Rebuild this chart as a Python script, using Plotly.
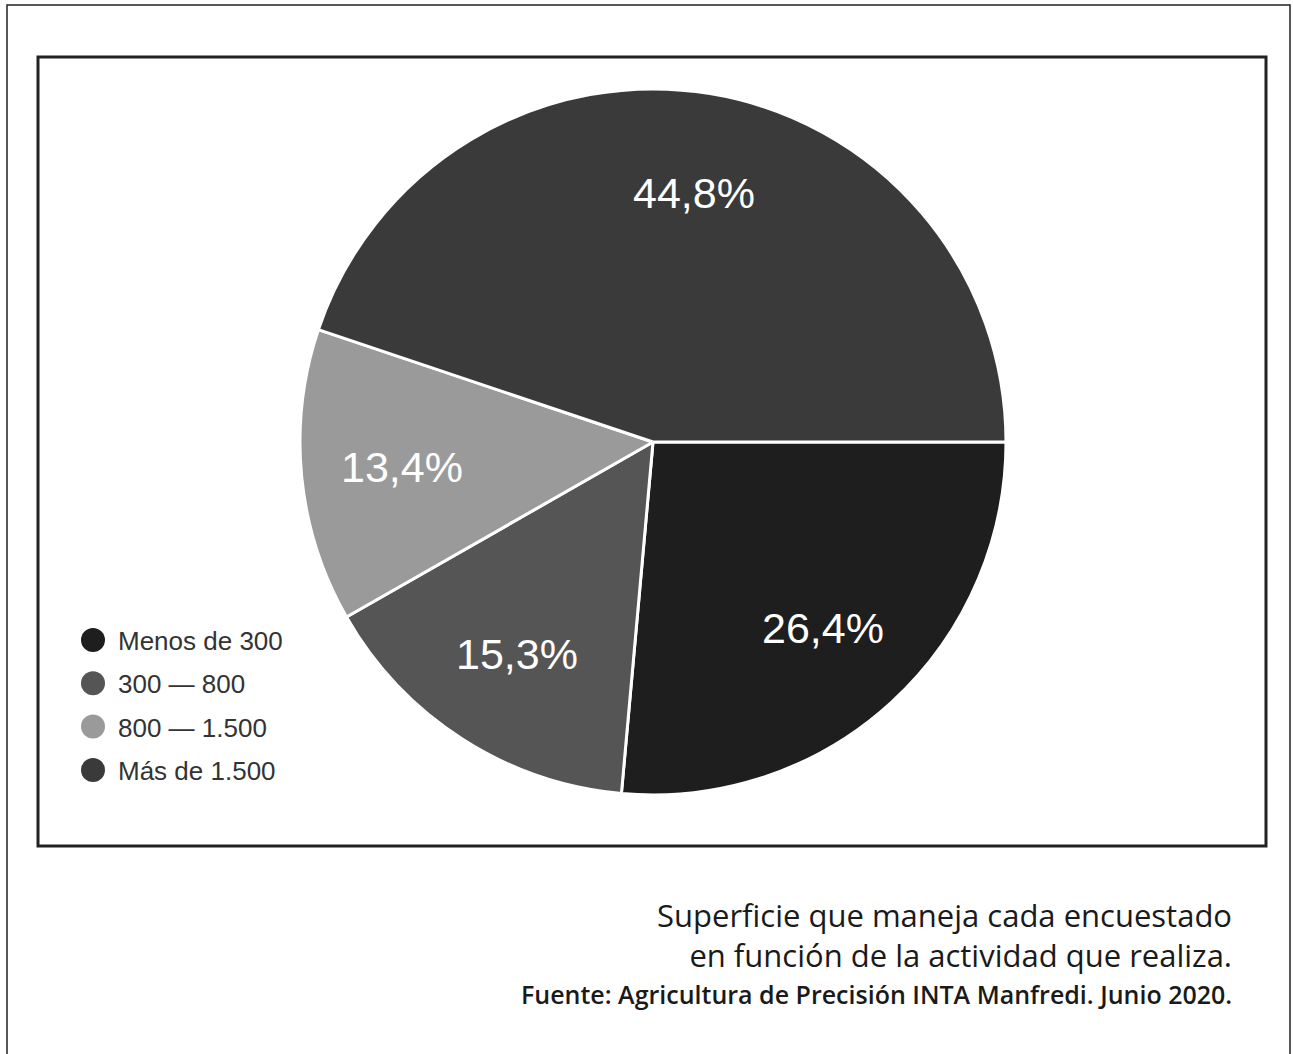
import math
import plotly.graph_objects as go

categories = ["Menos de 300", "300 — 800", "800 — 1.500", "Más de 1.500"]
values = [26.4, 15.3, 13.4, 44.8]
colors = ["#1e1e1e", "#555555", "#9a9a9a", "#3a3a3a"]
caption_lines = ["Superficie que maneja cada encuestado",
                 "en función de la actividad que realiza."]
source_line = "Fuente: Agricultura de Precisión INTA Manfredi. Junio 2020."

W, H = 1293, 1054

def px(x):
    return x / W

def py(y):
    return 1 - y / H

labels_txt = [f"{v:.1f}".replace(".", ",") + "%" for v in values]

# pie geometry (pixels)
CX, CY, R = 653, 442, 353
LABEL_R = 0.715

fig = go.Figure()
fig.add_trace(go.Pie(
    labels=categories, values=values, text=labels_txt,
    textinfo="none", sort=False, direction="clockwise", rotation=90,
    marker=dict(colors=colors, line=dict(color="white", width=3)),
    domain=dict(x=[px(CX - R), px(CX + R)], y=[py(CY + R), py(CY - R)]),
    showlegend=False, hoverinfo="label+text",
))

annotations = []
total = sum(values)
cum = 0.0
for v, t in zip(values, labels_txt):
    mid = (cum + v / 2) / total
    cum += v
    ang = math.radians(-mid * 360)  # clockwise from 3 o'clock
    lx = CX + LABEL_R * R * math.cos(ang)
    ly = CY - LABEL_R * R * math.sin(ang)
    annotations.append(dict(
        xref="paper", yref="paper", x=px(lx), y=py(ly), xanchor="center", yanchor="middle",
        text=t, showarrow=False,
        font=dict(family="Liberation Sans, Arial", size=43, color="white")))

shapes = [
    dict(type="rect", xref="paper", yref="paper", x0=px(7), x1=px(1290), y0=py(1060), y1=py(5),
         line=dict(color="#222", width=1.5)),
    dict(type="rect", xref="paper", yref="paper", x0=px(38), x1=px(1266), y0=py(846), y1=py(57),
         line=dict(color="#222", width=3)),
]
LEG_X, LEG_Y0, LEG_DY, LEG_R = 93, 640, 43.3, 12
for i, (c, col) in enumerate(zip(categories, colors)):
    yc = LEG_Y0 + i * LEG_DY
    shapes.append(dict(type="circle", xref="paper", yref="paper",
                       x0=px(LEG_X - LEG_R), x1=px(LEG_X + LEG_R),
                       y0=py(yc + LEG_R), y1=py(yc - LEG_R),
                       fillcolor=col, line=dict(width=0)))
    annotations.append(dict(
        xref="paper", yref="paper", x=px(116), y=py(yc + 1), xanchor="left", yanchor="middle",
        text=c, showarrow=False,
        font=dict(family="Liberation Sans, Arial", size=26, color="#333333")))

annotations += [
    dict(xref="paper", yref="paper", x=px(1234), y=py(935), xanchor="right", yanchor="middle",
         text="<br>".join(caption_lines), align="right", showarrow=False,
         font=dict(family="Open Sans", size=31, color="#1a1a1a", weight=500)),
    dict(xref="paper", yref="paper", x=px(1234), y=py(994), xanchor="right", yanchor="middle",
         text=source_line, showarrow=False,
         font=dict(family="Open Sans", size=25, color="#1a1a1a", weight=600)),
]

fig.update_layout(
    width=W, height=H,
    margin=dict(l=0, r=0, t=0, b=0),
    paper_bgcolor="white", plot_bgcolor="white",
    showlegend=False,
    shapes=shapes,
    annotations=annotations,
)

fig.write_html("out.html", config={"displayModeBar": False},
               post_script="document.body.style.margin='0';document.body.style.overflow='hidden';")
